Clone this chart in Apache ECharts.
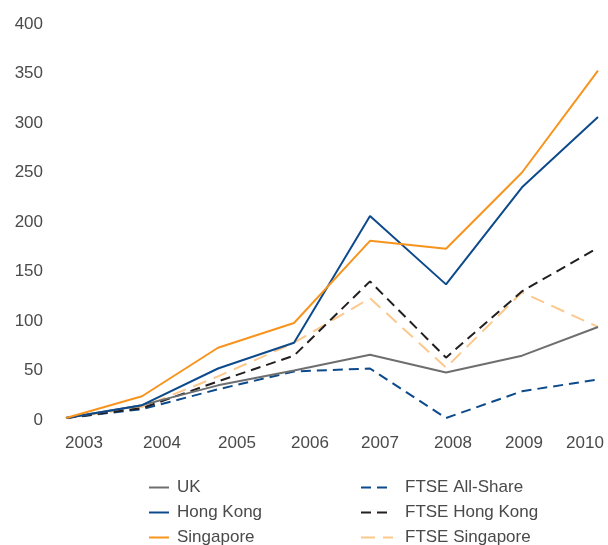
<!DOCTYPE html>
<html>
<head>
<meta charset="utf-8">
<script src="https://cdn.jsdelivr.net/npm/echarts@6/dist/echarts.min.js"></script>
<style>
html,body{margin:0;padding:0;background:#fff;}
#c{width:608px;height:545px;}
</style>
</head>
<body>
<div id="c"></div>
<script>
const years = ['2003','2004','2005','2006','2007','2008','2009','2010'];
const yTicks = [0, 400, 50];
const uk = [2, 15, 35, 50, 66, 48, 65, 94];
const hongKong = [2, 15, 52, 78, 206, 137, 235, 306];
const singapore = [2, 24, 73, 98, 181, 173, 250, 353];
const ftseAllShare = [2, 11, 31, 49, 52, 2, 29, 41];
const ftseHongKong = [2, 12, 39, 65, 140, 63, 130, 174];
const ftseSingapore = [2, 13, 44, 78, 123, 53, 129, 94];

const font = 'Liberation Sans, Arial, sans-serif';
const textColor = '#4a4a4a';
// per-label horizontal nudges (px) to match reference label placement
const labelShift = [18, 20, 19, 16, 10, 7, 2, -13];
const rich = {};
labelShift.forEach((d, i) => {
  rich['p' + i] = {
    fontSize: 17, fontFamily: font, color: textColor,
    padding: d >= 0 ? [0, 0, 0, 2 * d] : [0, -2 * d, 0, 0]
  };
});

function line(name, data, color, dash, width) {
  return {
    name, type: 'line', data, symbol: 'none', smooth: false,
    lineStyle: { color, width: width || 2, type: dash || 'solid' },
    itemStyle: { color },
    emphasis: { disabled: true }
  };
}

const legendCommon = {
  orient: 'vertical', top: 474, height: 80,
  itemHeight: 14, itemGap: 8,
  itemStyle: { opacity: 0 },
  selectedMode: false
};

const chart = echarts.init(document.getElementById('c'), null, { renderer: 'canvas' });
chart.setOption({
  animation: false,
  grid: { left: 66, right: 10, top: 24, bottom: 125 },
  xAxis: {
    type: 'category', data: years, boundaryGap: false,
    axisLine: { show: false }, axisTick: { show: false }, splitLine: { show: false },
    axisLabel: {
      interval: 0, margin: 15,
      formatter: (v, i) => '{p' + i + '|' + v + '}',
      rich
    }
  },
  yAxis: {
    type: 'value', min: yTicks[0], max: yTicks[1], interval: yTicks[2],
    axisLine: { show: false }, axisTick: { show: false }, splitLine: { show: false },
    axisLabel: { margin: 23, fontSize: 17, fontFamily: font, color: textColor }
  },
  legend: [
    Object.assign({}, legendCommon, {
      data: ['UK', 'Hong Kong', 'Singapore'],
      left: 143, itemWidth: 20,
      textStyle: { fontSize: 17, lineHeight: 14, fontFamily: font, color: textColor, padding: [0, 0, 0, 3] }
    }),
    Object.assign({}, legendCommon, {
      data: ['FTSE All-Share', 'FTSE Hong Kong', 'FTSE Singapore'],
      left: 355, itemWidth: 32,
      textStyle: { fontSize: 17, lineHeight: 14, fontFamily: font, color: textColor, padding: [0, 0, 0, 7] }
    })
  ],
  series: [
    line('FTSE All-Share', ftseAllShare, '#0d4a8c', [10, 6]),
    line('FTSE Singapore', ftseSingapore, '#fdc88c', [14, 8]),
    line('FTSE Hong Kong', ftseHongKong, '#231f20', [10, 6]),
    line('UK', uk, '#6d6e70'),
    line('Hong Kong', hongKong, '#0d4a8c'),
    line('Singapore', singapore, '#f7941e')
  ]
});
</script>
</body>
</html>
